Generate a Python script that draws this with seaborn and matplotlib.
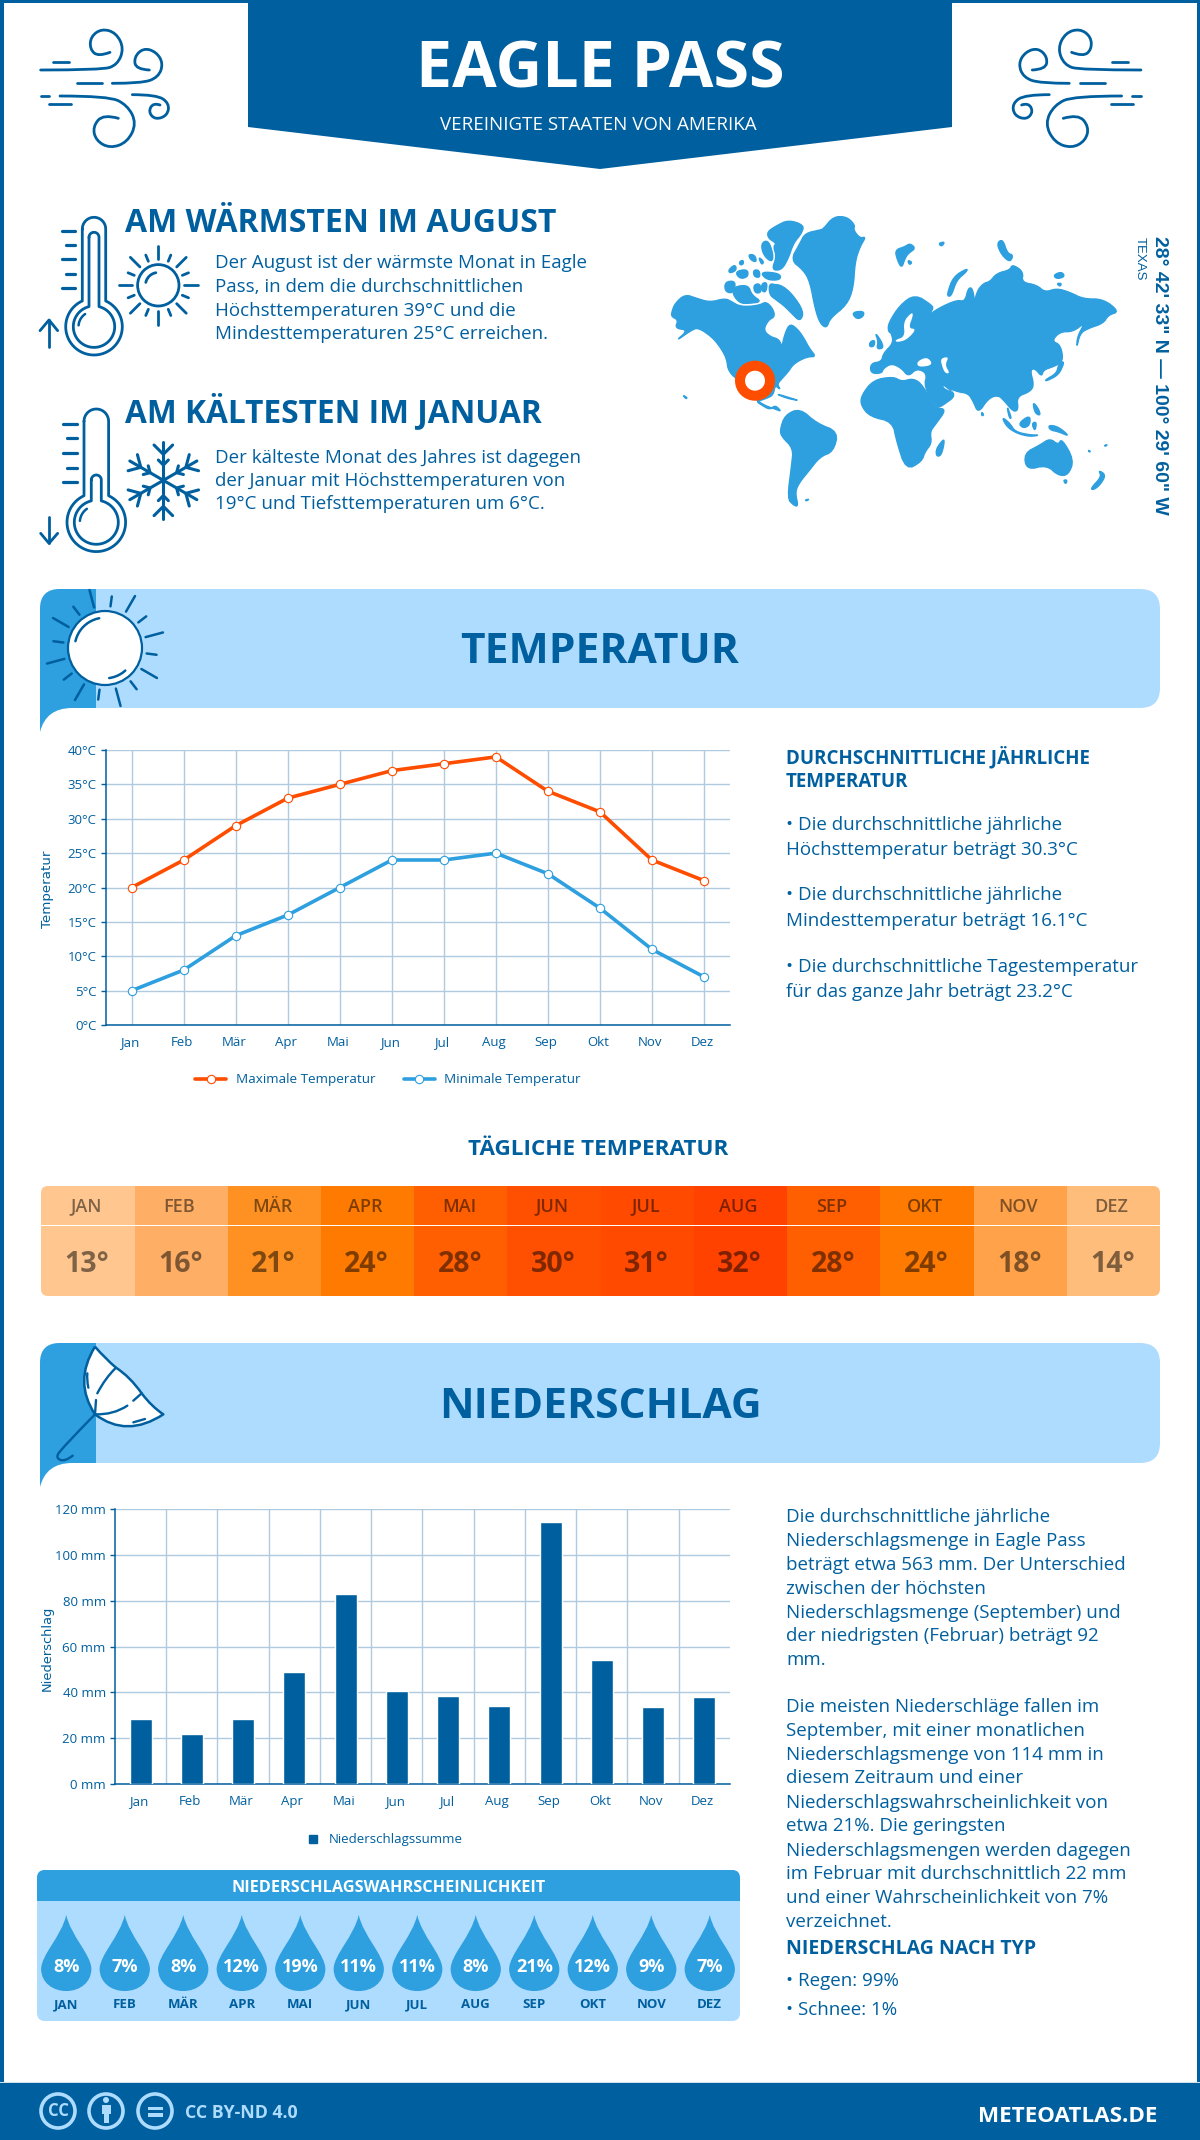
import numpy as np
import pandas as pd
import matplotlib
matplotlib.use('Agg')
import matplotlib.pyplot as plt
import seaborn as sns
from matplotlib.colors import LinearSegmentedColormap
from matplotlib.lines import Line2D
from matplotlib.patches import Circle, FancyBboxPatch, PathPatch, Polygon, Rectangle
from matplotlib.path import Path
from matplotlib.transforms import ScaledTranslation

# ------------------------------
# data
# ------------------------------
months = ['Jan', 'Feb', 'Mär', 'Apr', 'Mai', 'Jun', 'Jul', 'Aug', 'Sep', 'Okt', 'Nov', 'Dez']
months_upper = ['JAN', 'FEB', 'MÄR', 'APR', 'MAI', 'JUN', 'JUL', 'AUG', 'SEP', 'OKT', 'NOV', 'DEZ']
temp_max = [20, 24, 29, 33, 35, 37, 38, 39, 34, 31, 24, 21]
temp_min = [5, 8, 13, 16, 20, 24, 24, 25, 22, 17, 11, 7]
temp_daily = [13, 16, 21, 24, 28, 30, 31, 32, 28, 24, 18, 14]
precip = [28.5, 22, 28.5, 49, 83, 40.7, 38.5, 34.2, 114.5, 54.3, 33.7, 38.1]
rain_prob = [8, 7, 8, 12, 19, 11, 11, 8, 21, 12, 9, 7]

temp_ticks = [0, 5, 10, 15, 20, 25, 30, 35, 40]
precip_ticks = [0, 20, 40, 60, 80, 100, 120]

heat_values = [13, 14, 16, 18, 21, 24, 28, 30, 31, 32]
heat_colors = ['#ffc78f', '#ffbd7a', '#ffae66', '#ffa24a', '#ff9123',
               '#ff7a00', '#ff5f00', '#ff4f00', '#ff4a00', '#ff4200']

warm_lines = ['Der August ist der wärmste Monat in Eagle',
              'Pass, in dem die durchschnittlichen',
              'Höchsttemperaturen 39°C und die',
              'Mindesttemperaturen 25°C erreichen.']
cold_lines = ['Der kälteste Monat des Jahres ist dagegen',
              'der Januar mit Höchsttemperaturen von',
              '19°C und Tiefsttemperaturen um 6°C.']
temp_lines = ['• Die durchschnittliche jährliche', 'Höchsttemperatur beträgt 30.3°C',
              '• Die durchschnittliche jährliche', 'Mindesttemperatur beträgt 16.1°C',
              '• Die durchschnittliche Tagestemperatur', 'für das ganze Jahr beträgt 23.2°C']
precip_lines_a = ['Die durchschnittliche jährliche', 'Niederschlagsmenge in Eagle Pass',
                  'beträgt etwa 563 mm. Der Unterschied', 'zwischen der höchsten',
                  'Niederschlagsmenge (September) und', 'der niedrigsten (Februar) beträgt 92', 'mm.']
precip_lines_b = ['Die meisten Niederschläge fallen im', 'September, mit einer monatlichen',
                  'Niederschlagsmenge von 114 mm in', 'diesem Zeitraum und einer',
                  'Niederschlagswahrscheinlichkeit von', 'etwa 21%. Die geringsten',
                  'Niederschlagsmengen werden dagegen', 'im Februar mit durchschnittlich 22 mm',
                  'und einer Wahrscheinlichkeit von 7%', 'verzeichnet.']

# ------------------------------
# setup
# ------------------------------
W, H = 1200, 2140
BLUE = '#005f9e'
MID = '#2e9fdf'
LIGHT = '#aedcff'
ORANGE = '#ff4d00'
GRID = '#b0cbe0'

sns.set_theme(style='white')
plt.rcParams['font.family'] = ['Open Sans', 'DejaVu Sans']
plt.rcParams['axes.unicode_minus'] = False

fig = plt.figure(figsize=(W / 100, H / 100), dpi=100, facecolor='white')


def px_axes(x0, y0, x1, y1, **kw):
    return fig.add_axes([x0 / W, 1 - y1 / H, (x1 - x0) / W, (y1 - y0) / H], **kw)


bg = px_axes(0, 0, W, H, zorder=0)
bg.set_xlim(0, W)
bg.set_ylim(H, 0)
bg.axis('off')


def txt(x, y, s, size=13.5, color=BLUE, weight='normal', ha='left', va='baseline', **kw):
    return bg.text(x, y, s, fontsize=size, color=color, fontweight=weight, ha=ha, va=va, **kw)


def stroke(pts, lw=2.0, color=BLUE, smooth=True, fill='none', z=3):
    pts = np.asarray(pts, dtype=float)
    if not smooth or len(pts) < 3:
        verts = list(pts)
        codes = [Path.MOVETO] + [Path.LINETO] * (len(pts) - 1)
    else:
        verts = [pts[0]]
        codes = [Path.MOVETO]
        for i in range(1, len(pts) - 1):
            end = pts[i + 1] if i == len(pts) - 2 else (pts[i] + pts[i + 1]) / 2
            verts += [pts[i], end]
            codes += [Path.CURVE3, Path.CURVE3]
    p = PathPatch(Path(verts, codes), fc=fill, ec=color, lw=lw, capstyle='round', joinstyle='round', zorder=z)
    bg.add_patch(p)
    return p


def crop(x0, y0, pts):
    return [(x0 + x / 3, y0 + y / 3) for x, y in pts]


def rounded(pts, rounds=2):
    # corner cutting, the traced outlines are quite coarse
    pts = np.asarray(pts, dtype=float)
    for _ in range(rounds):
        nxt = np.roll(pts, -1, axis=0)
        pts = np.column_stack([0.75 * pts + 0.25 * nxt, 0.25 * pts + 0.75 * nxt]).reshape(-1, 2)
    return pts


# frame
for r in [(0, 0, 4, H), (W - 3, 0, 3, H), (0, 0, W, 3)]:
    bg.add_patch(Rectangle(r[:2], r[2], r[3], fc=BLUE, ec='none', zorder=1))

# header
bg.add_patch(Polygon([(248, 0), (952, 0), (952, 127), (600, 169), (248, 127)], fc=BLUE, ec='none', zorder=2))
txt(600, 88, 'EAGLE PASS', size=46.5, color='white', weight='bold', ha='center', zorder=4)
txt(598, 130, 'VEREINIGTE STAATEN VON AMERIKA', size=13.5, color='white', ha='center', zorder=4)

# wind icons
wind_strokes = [
    [(32, 150), (215, 150), (262, 135), (282, 85), (258, 38), (215, 26), (182, 50), (180, 88), (205, 110), (240, 97)],
    [(70, 125), (118, 125)],
    [(247, 190), (335, 190), (385, 172), (400, 130), (378, 95), (340, 84), (312, 112), (318, 148), (358, 150)],
    [(140, 190), (215, 190)],
    [(32, 228), (58, 228)],
    [(90, 228), (235, 228), (292, 255), (320, 310), (292, 367), (240, 385), (198, 362), (188, 320), (220, 282), (265, 295)],
    [(307, 224), (380, 224), (418, 250), (412, 287), (375, 299), (355, 275), (370, 248), (390, 255)],
    [(57, 253), (123, 253)],
]
for s in wind_strokes:
    pts = crop(30, 20, s)
    stroke(pts, lw=2.0)
    stroke([(1181.6 - x, y) for x, y in pts], lw=2.0)


def tube_outline(xc, ytop, t, yb, R):
    a = np.arcsin(t / R)
    top = [(xc + t * np.sin(q), ytop + t - t * np.cos(q)) for q in np.linspace(-np.pi / 2, np.pi / 2, 20)]
    bulb = [(xc + R * np.sin(q), yb - R * np.cos(q)) for q in np.linspace(a, 2 * np.pi - a, 60)]
    return top + bulb + top[:1]


def thermometer(xc, yt_out, yt_in, yb, t_out, R_out, t_in, R_in):
    stroke(tube_outline(xc, yt_out, t_out, yb, R_out), lw=2.0, smooth=False)
    stroke(tube_outline(xc, yt_in, t_in, yb, R_in), lw=2.0, smooth=False)
    q = np.deg2rad(np.linspace(185, 235, 10))
    stroke(list(zip(xc + 0.68 * R_in * 1.1 * np.cos(q), yb + 0.68 * R_in * 1.1 * np.sin(q))), lw=1.8, smooth=False)


thermometer(94, 217.3, 232.3, 326.7, 11.7, 28.3, 5, 20.7)
thermometer(96.3, 409, 475, 522.3, 12.3, 29.3, 5, 22)
for i, y in enumerate([231, 245.3, 259.3, 273.7, 287.7]):
    stroke([(62.3 if i % 2 == 0 else 65.7, y), (75, y)], lw=2.3, smooth=False)
for i, y in enumerate([423.7, 438.3, 453, 467.7, 482.3]):
    stroke([(63.3 if i % 2 == 0 else 66.7, y), (76.7, y)], lw=2.3, smooth=False)
stroke(crop(30, 205, [(57, 425), (57, 345)]), lw=2.0, smooth=False)
stroke(crop(30, 205, [(30, 377), (57, 345), (83, 377)]), lw=2.0, smooth=False)
stroke(crop(30, 395, [(57, 365), (57, 445)]), lw=2.0, smooth=False)
stroke(crop(30, 395, [(32, 415), (57, 445), (83, 415)]), lw=2.0, smooth=False)


def sun(cx, cy, r, r_in, r_short, r_long, rot=0.0, lw=2.0, fill='none', edge=2.0, hr=0.62, second=False):
    bg.add_patch(Circle((cx, cy), r, fc=fill, ec=BLUE, lw=edge, zorder=3))
    for i in range(16):
        q = np.deg2rad(rot + i * 22.5)
        rr = r_long if i % 2 == 0 else r_short
        stroke([(cx + r_in * np.cos(q), cy + r_in * np.sin(q)), (cx + rr * np.cos(q), cy + rr * np.sin(q))],
               lw=lw, smooth=False)
    q = np.deg2rad(np.linspace(193, 259, 12))
    stroke(list(zip(cx + hr * r * np.cos(q), cy + hr * r * np.sin(q))), lw=lw, smooth=False)
    if second:
        q = np.deg2rad(np.linspace(48, 82, 10))
        stroke(list(zip(cx + hr * r * np.cos(q), cy + hr * r * np.sin(q))), lw=lw, smooth=False)


sun(158.3, 285.3, 20.7, 26, 32.7, 39.5, lw=2.0)

# snowflake
c = np.array([30 + 400 / 3, 395 + 256 / 3])
for deg in range(90, 450, 60):
    q = np.deg2rad(deg)
    u = np.array([np.cos(q), np.sin(q)])
    n = np.array([-u[1], u[0]])
    stroke([c, c + 38.7 * u], lw=2.2, smooth=False)
    for d, b in [(15.3, 5.0), (26, 9.3)]:
        stroke([c + (d + b) * u + b * n, c + d * u, c + (d + b) * u - b * n], lw=2.2, smooth=False)

# warm / cold texts
txt(125, 232, 'AM WÄRMSTEN IM AUGUST', size=23, weight='bold')
for s, y in zip(warm_lines, [268, 292, 316, 339]):
    txt(215, y, s)
txt(125, 422, 'AM KÄLTESTEN IM JANUAR', size=22.8, weight='bold')
for s, y in zip(cold_lines, [463, 486, 509]):
    txt(215, y, s)

# ------------------------------
# world map, hand traced outlines
# ------------------------------
land_west = [
    [(35, 322), (45, 295), (75, 268), (110, 280), (150, 292), (195, 280), (215, 290), (235, 302), (262, 305), (300, 300),
     (318, 290), (338, 310), (345, 335), (325, 345), (310, 375), (330, 395), (358, 403), (365, 428), (375, 385), (390, 355),
     (415, 375), (432, 400), (448, 430), (468, 455), (445, 455), (420, 465), (398, 480), (385, 500), (362, 525), (352, 538),
     (362, 555), (345, 540), (340, 570), (320, 580), (290, 590), (300, 597), (330, 615), (345, 600), (365, 620), (345, 612),
     (310, 600), (270, 570), (240, 530), (205, 500), (200, 460), (180, 425), (155, 395), (115, 368), (95, 375), (45, 410),
     (85, 375), (45, 370), (55, 345), (35, 335)],
    [(322, 80), (350, 62), (385, 45), (432, 60), (425, 85), (400, 115), (385, 160), (365, 195), (335, 195), (350, 155),
     (340, 125), (350, 115), (325, 100)],
    [(303, 115), (325, 105), (340, 150), (335, 172), (310, 150)],
    [(330, 240), (360, 238), (395, 265), (432, 320), (420, 350), (395, 325), (370, 300), (335, 275)],
    [(222, 245), (265, 240), (275, 270), (305, 290), (270, 295), (240, 295), (218, 268)],
    [(195, 230), (228, 228), (220, 265), (195, 260)],
    [(205, 195), (225, 178), (230, 195), (210, 205)],
    [(225, 200), (262, 192), (265, 215), (240, 222)],
    [(280, 195), (298, 195), (300, 218), (282, 215)],
    [(300, 200), (360, 205), (362, 225), (320, 225)],
    [(280, 240), (300, 235), (305, 262), (285, 265)],
    [(305, 235), (322, 232), (318, 262), (305, 258)],
    [(328, 235), (350, 240), (360, 285), (340, 280), (328, 265)],
    [(265, 148), (285, 150), (290, 172), (272, 165)],
    [(295, 155), (312, 170), (305, 180)],
    [(238, 170), (250, 165), (250, 178), (240, 180)],
    [(490, 72), (520, 35), (560, 35), (585, 60), (580, 75), (600, 100), (618, 95), (600, 125), (585, 170), (580, 250),
     (560, 300), (510, 340), (500, 370), (480, 355), (465, 310), (450, 230), (430, 195), (392, 165), (420, 115), (435, 85),
     (480, 75)],
    [(575, 322), (612, 318), (610, 335), (590, 343)],
    [(68, 570), (82, 578), (78, 582)],
    [(345, 565), (395, 580), (418, 587), (380, 580)],
    [(360, 675), (375, 630), (420, 610), (470, 655), (535, 680), (520, 740), (480, 755), (445, 800), (420, 830), (405, 860),
     (415, 905), (400, 900), (382, 880), (395, 780), (400, 730), (365, 695)],
    [(435, 885), (448, 882), (440, 888)],
]
land_east = [
    [(115, 355), (150, 300), (195, 268), (245, 300), (250, 312), (230, 335), (265, 310), (320, 285), (345, 290), (355, 248),
     (368, 250), (375, 300), (368, 318), (380, 260), (400, 235), (420, 230), (440, 205), (480, 195), (487, 178), (520, 200),
     (515, 232), (560, 240), (585, 262), (620, 250), (660, 262), (700, 282), (760, 282), (808, 320), (775, 330), (760, 355),
     (715, 370), (690, 385), (680, 430), (682, 395), (705, 352), (670, 380), (630, 380), (605, 408), (632, 420), (640, 470),
     (610, 485), (580, 495), (575, 515), (555, 490), (540, 495), (552, 540), (540, 560), (500, 575), (505, 615), (490, 620),
     (465, 590), (445, 570), (415, 580), (385, 625), (370, 590), (355, 565), (320, 560), (275, 540), (285, 545), (320, 570),
     (280, 600), (260, 610), (222, 545), (232, 505), (200, 490), (175, 515), (155, 490), (125, 475), (100, 490), (95, 505),
     (62, 505), (62, 475), (95, 470), (100, 445), (130, 415), (125, 385), (115, 380)],
    [(35, 570), (70, 525), (130, 515), (155, 530), (190, 520), (218, 540), (255, 610), (290, 612), (255, 660), (240, 680),
     (245, 715), (225, 740), (215, 770), (168, 795), (140, 710), (128, 650), (60, 635), (32, 600)],
    [(75, 382), (95, 410), (100, 430), (80, 432), (85, 410)],
    [(60, 410), (75, 405), (72, 425), (58, 425)],
    [(270, 715), (285, 700), (275, 750), (260, 755), (258, 735)],
    [(135, 135), (165, 125), (180, 115), (197, 130), (175, 145), (165, 160), (155, 190), (142, 165)],
    [(265, 115), (285, 110), (275, 125)],
    [(173, 165), (187, 172), (178, 180)],
    [(440, 115), (458, 102), (472, 145), (490, 150), (480, 172), (455, 150)],
    [(610, 210), (635, 200), (645, 215), (620, 222)],
    [(620, 235), (635, 235), (630, 245)],
    [(292, 265), (310, 215), (352, 190), (350, 200), (320, 225), (305, 270), (295, 275)],
    [(395, 620), (402, 630), (395, 633)],
    [(585, 525), (620, 505), (625, 480), (640, 468), (640, 480), (625, 510), (590, 528)],
    [(455, 635), (480, 655), (495, 680), (540, 690), (570, 690), (540, 695), (500, 685), (470, 665)],
    [(505, 655), (540, 630), (540, 660), (520, 670)],
    [(545, 655), (560, 650), (555, 680)],
    [(548, 590), (565, 610), (572, 632), (555, 625)],
    [(595, 660), (625, 665), (660, 695), (625, 680), (600, 675)],
    [(470, 600), (485, 640), (478, 640)],
    [(522, 745), (570, 720), (600, 700), (625, 720), (635, 700), (672, 765), (655, 810), (625, 812), (590, 780), (530, 795)],
    [(640, 825), (652, 825), (647, 838)],
    [(722, 850), (755, 815), (745, 795), (768, 810), (750, 840), (730, 855)],
    [(715, 735), (722, 740), (717, 741)],
    [(762, 722), (772, 718), (768, 724)],
]
seas = [
    [(135, 405), (165, 395), (160, 350), (185, 322), (190, 330), (175, 370), (200, 372), (170, 405), (140, 412)],
    [(200, 470), (232, 455), (250, 480), (205, 487)],
    [(272, 460), (297, 455), (285, 480), (300, 505), (285, 505), (275, 480)],
    [(278, 540), (300, 558), (315, 562), (285, 552)],
]
for x0, group in [(660, land_west), (850, land_east)]:
    for poly in group:
        bg.add_patch(Polygon(rounded(crop(x0, 205, poly)), fc=MID, ec=MID, lw=1.0, joinstyle='round', zorder=2))
for poly in seas:
    bg.add_patch(Polygon(rounded(crop(850, 205, poly)), fc='white', ec='none', zorder=2.5))
bg.add_patch(Circle((755, 380.7), 15, fc='white', ec=ORANGE, lw=7.2, zorder=3))
txt(1155, 236, '28° 42\' 33" N — 100° 29\' 60" W', size=14, weight='bold', family='Liberation Sans',
    rotation=270, rotation_mode='anchor', ha='left', va='baseline')
txt(1137, 237, 'TEXAS', size=9.5, family='Liberation Sans', rotation=270, rotation_mode='anchor', ha='left', va='baseline')


# ------------------------------
# section banners
# ------------------------------
def banner(y0, y1, title, title_y):
    box = FancyBboxPatch((40, y0), 1120, y1 - y0, boxstyle='round,pad=0,rounding_size=20',
                         fc=LIGHT, ec='none', zorder=1, mutation_aspect=1)
    bg.add_patch(box)
    dark = Rectangle((40, y0), 56, y1 - y0, fc=MID, ec='none', zorder=1.5)
    bg.add_patch(dark)
    dark.set_clip_path(box)
    bg.add_patch(Rectangle((40, y1 - 25), 56, 25, fc=MID, ec='none', zorder=1.5))
    tail = Path([(40, y1 - 1), (40, y1 + 24), (46, y1), (72, y1), (72, y1 - 1), (40, y1 - 1)],
                [Path.MOVETO, Path.LINETO, Path.CURVE3, Path.CURVE3, Path.LINETO, Path.CLOSEPOLY])
    bg.add_patch(PathPatch(tail, fc=MID, ec='none', zorder=1.5))
    txt(600, title_y, title, size=30.6, weight='bold', ha='center', zorder=4)


banner(589, 708, 'TEMPERATUR', 663)
banner(1343, 1463, 'NIEDERSCHLAG', 1418)
sun(105, 648, 37, 42, 52, 60, rot=-15, lw=1.8, fill='white', edge=1.6, hr=0.82, second=True)

# umbrella
canopy = Path(crop(30, 1335, [(195, 35), (130, 140), (195, 238), (290, 310), (400, 238), (365, 215), (335, 175),
                              (300, 125), (258, 98), (225, 70), (195, 35)]),
              [Path.MOVETO] + [Path.CURVE3] * 10)
bg.add_patch(PathPatch(canopy, fc='white', ec=BLUE, lw=1.8, joinstyle='round', zorder=3))
for s in [[(258, 98), (225, 130), (202, 175)], [(198, 195), (195, 238)], [(335, 175), (310, 197)],
          [(292, 212), (250, 240), (195, 238)], [(172, 115), (170, 135), (175, 158)], [(310, 262), (345, 252)]]:
    stroke(crop(30, 1335, s), lw=1.7)
stroke(crop(30, 1335, [(195, 238), (90, 345), (78, 370), (105, 380), (128, 362)]), lw=1.7)

# ------------------------------
# temperature chart
# ------------------------------
df_temp = pd.DataFrame({
    'Monat': months * 2,
    'Temperatur': temp_max + temp_min,
    'Reihe': ['Maximale Temperatur'] * 12 + ['Minimale Temperatur'] * 12,
})
ax1 = px_axes(105.7, 750, 730, 1025, zorder=2)
sns.lineplot(data=df_temp, x='Monat', y='Temperatur', hue='Reihe', palette=[ORANGE, MID], sort=False,
             marker='o', markersize=6, linewidth=2.6, ax=ax1, legend=False, zorder=3)
for ln in ax1.lines:
    ln.set_markerfacecolor('white')
    ln.set_markeredgecolor(ln.get_color())
    ln.set_markeredgewidth(0.8)
ax1.set_xlim(-0.5, 11.5)
ax1.set_ylim(0, 40)
ax1.set_yticks(temp_ticks)
ax1.set_yticklabels([f'{v}°C' for v in temp_ticks])
ax1.grid(True, color=GRID, lw=1)
ax1.set_axisbelow(True)
sns.despine(ax=ax1)
for sp in ['left', 'bottom']:
    ax1.spines[sp].set_color(BLUE)
    ax1.spines[sp].set_linewidth(1.1)
ax1.tick_params(axis='y', length=3.6, width=1, color=BLUE, labelcolor=BLUE, labelsize=9.5, pad=3, left=True)
ax1.tick_params(axis='x', length=0, labelcolor=BLUE, labelsize=9.5, pad=8)
ax1.set_xlabel('')
ax1.set_ylabel('')
shift = ScaledTranslation(-2 / 100, 0, fig.dpi_scale_trans)
for lab in ax1.get_xticklabels():
    lab.set_transform(lab.get_transform() + shift)
txt(47, 889.5, 'Temperatur', size=9.6, family='DejaVu Sans', rotation=90, ha='center', va='center')
ax1.legend(handles=ax1.lines[:2], labels=['Maximale Temperatur', 'Minimale Temperatur'], ncol=2, frameon=False,
           loc='center', bbox_to_anchor=(388 / W, 1 - 1080 / H), bbox_transform=fig.transFigure,
           fontsize=9.7, labelcolor=BLUE, handlelength=2.3, columnspacing=2.1, handletextpad=0.7)

txt(786, 763, 'DURCHSCHNITTLICHE JÄHRLICHE', weight='bold')
txt(786, 787, 'TEMPERATUR', weight='bold')
for s, y in zip(temp_lines, [830, 855, 900, 926, 972, 997]):
    txt(786, y, s)

# ------------------------------
# daily temperature strip
# ------------------------------
txt(598, 1155, 'TÄGLICHE TEMPERATUR', size=16.2, weight='bold', ha='center')
cmap = LinearSegmentedColormap.from_list(
    'heat', [((v - 13) / 19, c) for v, c in zip(heat_values, heat_colors)])
strip = FancyBboxPatch((41.3, 1186), 1118.7, 110, boxstyle='round,pad=0,rounding_size=7', fc='none', ec='none')
bg.add_patch(strip)
vals = np.array([temp_daily], dtype=float)
ax2a = px_axes(41.3, 1186, 1160, 1225, zorder=2)
sns.heatmap(vals, ax=ax2a, cmap=cmap, vmin=13, vmax=32, cbar=False, annot=np.array([months_upper]), fmt='',
            annot_kws={'fontsize': 13, 'fontweight': 'semibold', 'color': 'black', 'alpha': 0.5},
            xticklabels=False, yticklabels=False)
ax2b = px_axes(41.3, 1226, 1160, 1296, zorder=2)
sns.heatmap(vals, ax=ax2b, cmap=cmap, vmin=13, vmax=32, cbar=False,
            annot=np.array([[f'{v}°' for v in temp_daily]]), fmt='',
            annot_kws={'fontsize': 20.5, 'fontweight': 'bold', 'color': 'black', 'alpha': 0.5},
            xticklabels=False, yticklabels=False)
for a in (ax2a, ax2b):
    a.collections[0].set_clip_path(strip)
for t in ax2a.texts:
    x, y = t.get_position()
    t.set_position((x - 0.02, y + 0.03))
for t in ax2b.texts:
    x, y = t.get_position()
    t.set_position((x - 0.01, y + 0.05))

# ------------------------------
# precipitation chart
# ------------------------------
df_prec = pd.DataFrame({'Monat': months, 'Niederschlag': precip})
ax3 = px_axes(115, 1509, 730, 1784, zorder=2)
sns.barplot(data=df_prec, x='Monat', y='Niederschlag', color=BLUE, width=0.43, saturation=1, ax=ax3, zorder=3)
ax3.set_xlim(-0.5, 11.5)
ax3.set_ylim(0, 120)
ax3.set_yticks(precip_ticks)
ax3.set_yticklabels([f'{v} mm' for v in precip_ticks])
ax3.set_xticks(np.arange(0.5, 11.5, 1), minor=True)
ax3.grid(True, axis='y', color=GRID, lw=1)
ax3.grid(True, axis='x', which='minor', color=GRID, lw=1)
ax3.set_axisbelow(True)
sns.despine(ax=ax3)
for sp in ['left', 'bottom']:
    ax3.spines[sp].set_color(BLUE)
    ax3.spines[sp].set_linewidth(1.1)
ax3.tick_params(axis='y', length=3.6, width=1, color=BLUE, labelcolor=BLUE, labelsize=9.5, pad=3, left=True)
ax3.tick_params(axis='x', which='both', length=0, labelcolor=BLUE, labelsize=9.5, pad=8)
ax3.set_xlabel('')
ax3.set_ylabel('')
for lab in ax3.get_xticklabels():
    lab.set_transform(lab.get_transform() + shift)
txt(47, 1648, 'Niederschlag', size=9.4, family='DejaVu Sans', rotation=90, ha='center', va='center')
ax3.legend(handles=[Line2D([], [], ls='none', marker='s', ms=6, color=BLUE)], labels=['Niederschlagssumme'],
           frameon=False, loc='center', bbox_to_anchor=(381 / W, 1 - 1840 / H), bbox_transform=fig.transFigure,
           fontsize=9.5, labelcolor=BLUE, handletextpad=0.2)

for s, y in zip(precip_lines_a, [1522, 1546, 1570, 1594, 1618, 1641, 1665]):
    txt(786, y, s)
for s, y in zip(precip_lines_b, [1712, 1736, 1760, 1783, 1808, 1831, 1856, 1879, 1903, 1927]):
    txt(786, y, s)
txt(786, 1954, 'NIEDERSCHLAG NACH TYP', size=14, weight='bold')
txt(786, 1986, '• Regen: 99%')
txt(786, 2015, '• Schnee: 1%')

# ------------------------------
# rain probability panel
# ------------------------------
panel = FancyBboxPatch((37, 1870), 703, 151, boxstyle='round,pad=0,rounding_size=8', fc=LIGHT, ec='none', zorder=1)
bg.add_patch(panel)
head = Rectangle((37, 1870), 703, 31, fc=MID, ec='none', zorder=1.5)
bg.add_patch(head)
head.set_clip_path(panel)
txt(389, 1892, 'NIEDERSCHLAGSWAHRSCHEINLICHKEIT', size=11.7, color='white', weight='bold', ha='center', zorder=4)

drop = Path([(0, 1), (0.12, 0.45), (0.66, -0.05), (0.66, -0.42), (0.66, -0.78), (0.35, -1), (0, -1),
             (-0.35, -1), (-0.66, -0.78), (-0.66, -0.42), (-0.66, -0.05), (-0.12, 0.45), (0, 1)],
            [Path.MOVETO] + [Path.CURVE4] * 12)
ax4 = px_axes(37, 1901, 739, 2021, zorder=2)
ax4.patch.set_alpha(0)
df_drop = pd.DataFrame({'Monat': months_upper, 'y': [52] * 12})
sns.scatterplot(data=df_drop, x='Monat', y='y', marker=drop, s=3000, color=MID, edgecolor='none', ax=ax4, legend=False)
ax4.set_xlim(-0.5, 11.5)
ax4.set_ylim(120, 0)
ax4.axis('off')
for i, (m, p) in enumerate(zip(months_upper, rain_prob)):
    ax4.text(i, 66, f'{p}%', color='white', fontsize=13, fontweight='bold', ha='center', va='center')
    ax4.text(i, 104, m, color=BLUE, fontsize=9.5, fontweight='bold', ha='center', va='center')

# ------------------------------
# footer
# ------------------------------
bg.add_patch(Rectangle((0, 2082), W, 1.5, fc='#d0e0ec', ec='none', zorder=5))
bg.add_patch(Rectangle((0, 2083), W, 57, fc=BLUE, ec='none', zorder=5))
for cx in [58, 106, 155]:
    bg.add_patch(Circle((cx, 2111), 17, fc=BLUE, ec=LIGHT, lw=2.6, zorder=6))
txt(58, 2111, 'CC', size=12, color=LIGHT, weight='bold', ha='center', va='center', zorder=7)
bg.add_patch(Circle((106, 2100), 3, fc=LIGHT, ec='none', zorder=7))
bg.add_patch(Rectangle((101.5, 2105), 9, 9, fc=LIGHT, ec='none', zorder=7))
bg.add_patch(Rectangle((103.5, 2114), 5, 9, fc=LIGHT, ec='none', zorder=7))
bg.add_patch(Rectangle((147.5, 2106.5), 15, 3.5, fc=LIGHT, ec='none', zorder=7))
bg.add_patch(Rectangle((147.5, 2113), 15, 3.5, fc=LIGHT, ec='none', zorder=7))
txt(185, 2118, 'CC BY-ND 4.0', size=12.8, color=LIGHT, weight='bold', zorder=7)
txt(1157, 2122, 'METEOATLAS.DE', size=16.1, color='white', weight='bold', ha='right', zorder=7)

fig.savefig('out.png', dpi=100)
